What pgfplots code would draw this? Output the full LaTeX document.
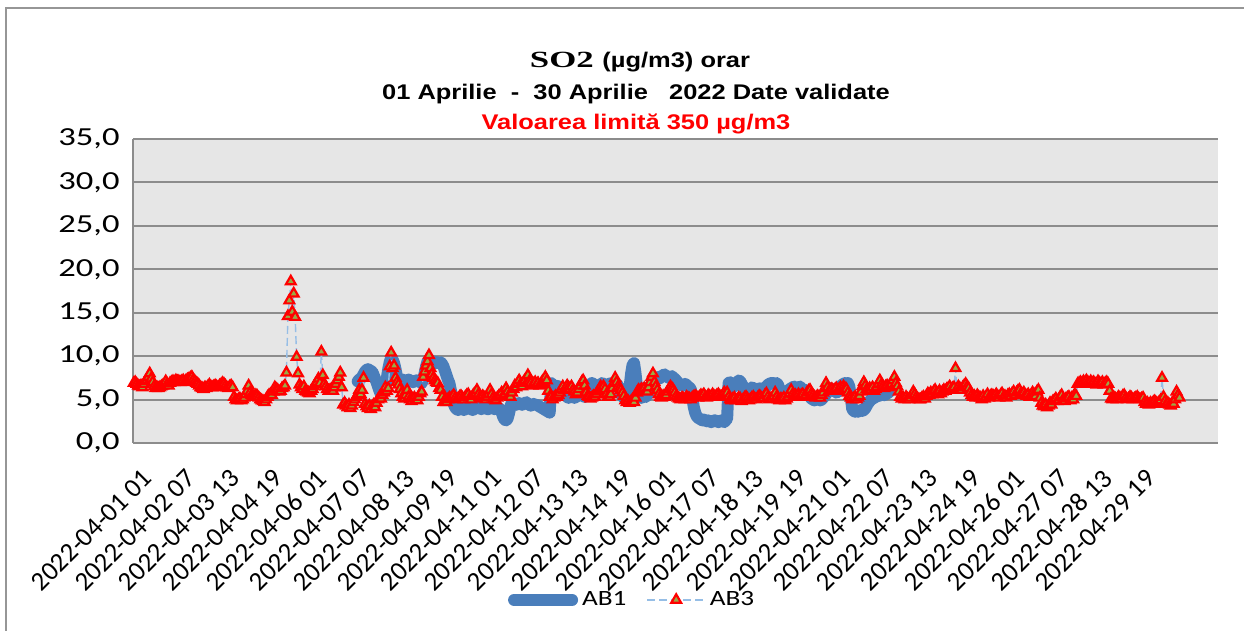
\documentclass[border=0pt]{standalone}
\usepackage{fontspec}
\setmainfont{Carlito}
\newfontfamily\ticky[FakeStretch=1.33]{Carlito}
\newfontfamily\tickx{Carlito}
\newfontfamily\legf[FakeStretch=1.25]{Carlito}
\newfontfamily\titlesans[FakeStretch=1.2]{Liberation Sans}
\newfontfamily\titleserif[FakeStretch=1.5]{Liberation Serif}
\usepackage{pgfplots}
\pgfplotsset{compat=1.18}
\usepackage{pgfplotstable}

\definecolor{abone}{RGB}{74,126,187}
\definecolor{abthree}{RGB}{150,190,230}
\definecolor{trifill}{RGB}{155,170,70}
\definecolor{gridc}{RGB}{140,140,140}
\definecolor{plotbg}{RGB}{230,230,230}
\definecolor{framec}{RGB}{150,150,150}

% AB3, hourly values from 2022-04-01 01 (index 0)
\pgfplotstableread[row sep=\\]{
y\\
6.9\\ 7.0\\ 6.8\\ 6.6\\ 6.5\\ 6.6\\ 6.4\\ 6.8\\ 7.1\\ 7.3\\
7.6\\ 8.0\\ 7.4\\ 7.0\\ 6.5\\ 6.3\\ 6.4\\ 6.3\\ 6.4\\ 6.5\\
6.6\\ 6.7\\ 7.1\\ 6.8\\ 6.6\\ 6.9\\ 7.0\\ 7.1\\ 7.0\\ 7.2\\ 7.1\\
7.1\\ 7.0\\ 7.1\\ 7.2\\ 7.0\\ 7.2\\ 7.3\\ 7.4\\ 7.5\\ 7.6\\
7.3\\ 7.1\\ 6.9\\ 6.8\\ 6.6\\ 6.4\\ 6.3\\ 6.2\\ 6.4\\ 6.3\\
6.5\\ 6.7\\ 6.5\\ 6.4\\ 6.5\\ 6.6\\ 6.5\\ 6.4\\ 6.6\\ 6.7\\
6.9\\ 6.8\\ 6.6\\ 6.4\\ 6.3\\ 6.5\\ 6.6\\ 6.4\\ 5.3\\ 5.0\\
4.9\\ 5.0\\ 5.1\\ 4.9\\ 5.0\\ 5.2\\ 5.6\\ 6.0\\ 6.6\\ 5.8\\ 5.5\\
5.4\\ 5.3\\ 5.5\\ 5.4\\ 5.2\\ 5.0\\ 4.9\\ 4.8\\ 4.7\\ 5.0\\
5.3\\ 5.5\\ 5.6\\ 5.5\\ 5.9\\ 6.4\\ 6.2\\ 6.1\\ 5.9\\ 6.0\\
6.3\\ 6.4\\ 6.6\\ 8.1\\ 14.6\\ 16.4\\ 18.6\\ 15.1\\ 17.2\\ 14.5\\
9.9\\ 8.0\\ 6.7\\ 6.4\\ 6.2\\ 6.5\\ 6.0\\ 5.9\\ 5.8\\ 5.7\\
6.0\\ 6.2\\ 6.5\\ 6.8\\ 7.0\\ 7.4\\ 6.9\\ 10.5\\ 7.8\\ 6.8\\ 6.5\\
6.2\\ 6.0\\ 6.1\\ 6.2\\ 6.0\\ 6.4\\ 6.8\\ 7.2\\ 7.6\\ 8.1\\
6.4\\ 4.4\\ 4.6\\ 4.3\\ 4.1\\ 4.4\\ 4.0\\ 4.3\\ 4.7\\ 5.0\\
5.3\\ 5.5\\ 6.1\\ 5.6\\ 6.1\\ 7.5\\ 4.5\\ 4.2\\ 4.0\\ 4.3\\
3.9\\ 4.2\\ 4.4\\ 4.1\\ 4.6\\ 5.0\\ 5.3\\ 5.1\\ 5.5\\ 5.8\\
6.4\\ 6.0\\ 6.3\\ 8.8\\ 10.4\\ 8.6\\ 8.9\\ 7.5\\ 7.0\\ 6.7\\ 6.2\\
5.7\\ 5.3\\ 5.1\\ 5.5\\ 6.1\\ 5.3\\ 5.0\\ 4.8\\ 5.1\\ 5.2\\
5.0\\ 4.9\\ 5.3\\ 5.7\\ 5.9\\ 7.6\\ 8.2\\ 8.9\\ 9.4\\ 10.1\\
8.6\\ 7.9\\ 7.5\\ 7.2\\ 7.0\\ 6.9\\ 6.3\\ 6.1\\ 5.3\\ 4.7\\
4.9\\ 4.7\\ 5.0\\ 5.2\\ 5.1\\ 5.3\\ 5.5\\ 5.2\\ 5.0\\ 5.1\\
5.3\\ 5.4\\ 5.2\\ 5.0\\ 5.3\\ 5.5\\ 5.6\\ 5.2\\ 5.0\\ 5.4\\ 5.6\\
5.8\\ 6.1\\ 5.6\\ 5.3\\ 5.1\\ 5.4\\ 5.2\\ 5.0\\ 5.3\\ 5.6\\
6.1\\ 5.6\\ 5.2\\ 5.0\\ 4.9\\ 5.2\\ 5.4\\ 5.5\\ 5.8\\ 5.4\\
5.6\\ 6.3\\ 5.9\\ 5.5\\ 5.3\\ 5.8\\ 6.2\\ 6.6\\ 6.4\\ 6.9\\
7.2\\ 6.8\\ 6.5\\ 7.0\\ 7.2\\ 6.9\\ 7.8\\ 7.1\\ 6.9\\ 6.6\\
6.8\\ 7.0\\ 6.7\\ 6.9\\ 6.6\\ 6.8\\ 7.1\\ 7.0\\ 7.6\\ 7.2\\ 6.0\\
5.3\\ 5.3\\ 5.0\\ 5.2\\ 5.4\\ 5.3\\ 5.5\\ 5.8\\ 6.2\\ 6.5\\
6.1\\ 6.3\\ 6.6\\ 6.4\\ 6.2\\ 6.5\\ 6.1\\ 5.9\\ 5.6\\ 5.8\\
6.2\\ 6.6\\ 7.0\\ 7.2\\ 6.6\\ 5.8\\ 5.4\\ 5.3\\ 5.1\\ 5.2\\
5.4\\ 5.3\\ 5.6\\ 5.9\\ 6.1\\ 6.5\\ 6.3\\ 6.5\\ 6.2\\ 5.6\\
5.3\\ 5.3\\ 5.6\\ 6.3\\ 6.9\\ 7.5\\ 7.0\\ 6.5\\ 6.3\\ 6.1\\ 5.8\\
5.4\\ 4.9\\ 4.7\\ 4.8\\ 4.6\\ 4.8\\ 5.0\\ 4.7\\ 5.2\\ 5.8\\
6.1\\ 6.0\\ 6.2\\ 6.1\\ 6.3\\ 6.0\\ 5.9\\ 6.4\\ 7.0\\ 7.6\\
8.0\\ 7.0\\ 6.5\\ 6.1\\ 5.6\\ 5.3\\ 5.2\\ 5.4\\ 5.3\\ 5.5\\
5.9\\ 6.2\\ 6.5\\ 6.3\\ 6.1\\ 5.8\\ 5.4\\ 5.2\\ 5.1\\ 5.0\\
5.2\\ 5.1\\ 5.0\\ 5.3\\ 5.2\\ 5.1\\ 5.0\\ 5.2\\ 5.3\\ 5.4\\ 5.3\\
5.2\\ 5.3\\ 5.5\\ 5.4\\ 5.6\\ 5.3\\ 5.2\\ 5.5\\ 5.4\\ 5.3\\
5.6\\ 5.4\\ 5.3\\ 5.5\\ 5.6\\ 5.4\\ 5.3\\ 5.5\\ 5.8\\ 5.6\\
5.8\\ 5.3\\ 5.0\\ 4.9\\ 5.1\\ 5.2\\ 4.9\\ 5.0\\ 5.2\\ 5.1\\
4.8\\ 5.0\\ 5.2\\ 5.3\\ 5.1\\ 4.9\\ 5.0\\ 5.2\\ 5.3\\ 5.1\\
5.0\\ 5.2\\ 5.4\\ 5.3\\ 5.1\\ 5.2\\ 5.5\\ 5.7\\ 5.3\\ 5.0\\ 5.1\\
5.1\\ 5.4\\ 5.8\\ 5.3\\ 5.0\\ 4.9\\ 5.1\\ 5.0\\ 5.2\\ 4.9\\
5.1\\ 5.3\\ 5.7\\ 6.1\\ 5.6\\ 5.4\\ 5.5\\ 5.3\\ 5.6\\ 5.4\\
5.5\\ 5.6\\ 5.3\\ 5.5\\ 5.8\\ 6.0\\ 6.1\\ 5.7\\ 5.5\\ 5.3\\
5.2\\ 5.4\\ 5.3\\ 5.2\\ 5.5\\ 5.8\\ 6.3\\ 6.9\\ 6.4\\ 6.0\\
6.1\\ 6.2\\ 6.0\\ 6.1\\ 6.3\\ 6.0\\ 6.2\\ 6.4\\ 6.1\\ 6.5\\ 6.3\\
6.2\\ 5.8\\ 5.4\\ 5.2\\ 5.0\\ 5.1\\ 5.3\\ 5.0\\ 5.2\\ 5.4\\
5.9\\ 6.5\\ 7.0\\ 6.6\\ 6.2\\ 6.0\\ 6.3\\ 6.1\\ 6.4\\ 6.0\\
6.2\\ 6.4\\ 6.8\\ 7.2\\ 6.7\\ 6.5\\ 6.3\\ 6.5\\ 6.6\\ 6.4\\
6.5\\ 6.8\\ 7.2\\ 7.6\\ 6.9\\ 6.5\\ 5.9\\ 5.3\\ 5.1\\ 5.2\\
5.0\\ 5.3\\ 5.1\\ 5.0\\ 5.2\\ 5.5\\ 5.9\\ 5.6\\ 5.3\\ 5.1\\ 5.0\\
5.0\\ 5.2\\ 5.3\\ 5.1\\ 5.4\\ 5.7\\ 5.5\\ 5.8\\ 5.6\\ 5.9\\
6.1\\ 5.8\\ 5.6\\ 6.0\\ 5.7\\ 5.9\\ 6.1\\ 6.0\\ 6.2\\ 6.3\\
6.5\\ 6.1\\ 6.3\\ 6.4\\ 8.6\\ 6.2\\ 6.5\\ 6.3\\ 6.1\\ 6.4\\
6.6\\ 6.8\\ 6.5\\ 6.3\\ 5.8\\ 5.5\\ 5.3\\ 5.4\\ 5.2\\ 5.5\\
5.3\\ 5.2\\ 5.0\\ 5.4\\ 5.1\\ 5.3\\ 5.6\\ 5.2\\ 5.4\\ 5.5\\ 5.4\\
5.3\\ 5.6\\ 5.4\\ 5.2\\ 5.5\\ 5.7\\ 5.3\\ 5.4\\ 5.2\\ 5.5\\
5.6\\ 5.4\\ 5.7\\ 5.9\\ 5.5\\ 5.8\\ 6.0\\ 6.1\\ 5.7\\ 5.6\\
5.8\\ 5.5\\ 5.4\\ 5.6\\ 5.3\\ 5.5\\ 5.8\\ 5.6\\ 5.4\\ 5.9\\
6.1\\ 5.2\\ 4.6\\ 4.3\\ 4.2\\ 4.4\\ 4.1\\ 4.3\\ 4.6\\ 4.4\\
4.8\\ 4.9\\ 5.1\\ 4.8\\ 5.0\\ 5.3\\ 5.5\\ 5.0\\ 4.8\\ 5.1\\ 5.2\\
5.3\\ 4.9\\ 5.2\\ 5.0\\ 5.6\\ 5.4\\ 6.8\\ 6.9\\ 7.0\\ 6.8\\
7.1\\ 6.9\\ 7.2\\ 7.0\\ 6.8\\ 7.1\\ 6.9\\ 7.0\\ 6.8\\ 6.7\\
7.1\\ 6.9\\ 6.8\\ 7.0\\ 6.7\\ 6.9\\ 7.0\\ 6.8\\ 6.0\\ 5.1\\
5.0\\ 5.2\\ 5.1\\ 5.0\\ 5.3\\ 5.2\\ 5.1\\ 5.4\\ 5.5\\ 5.2\\
5.0\\ 5.1\\ 5.3\\ 5.2\\ 5.0\\ 5.1\\ 5.2\\ 5.3\\ 5.1\\ 5.0\\ 5.1\\
5.2\\ 4.7\\ 4.5\\ 4.6\\ 4.4\\ 4.6\\ 4.5\\ 4.7\\ 4.8\\ 4.6\\
4.5\\ 4.7\\ 4.9\\ 7.5\\ 5.3\\ 4.8\\ 4.5\\ 4.6\\ 4.4\\ 4.3\\
4.6\\ 4.5\\ 5.0\\ 5.9\\ 5.5\\ 5.2\\
}\abthreetab

% AB1, hourly values from index 154 (2022-04-07 11)
\pgfplotstableread[row sep=\\]{
y\\
7.1\\ 7.3\\ 7.4\\ 7.6\\ 7.9\\ 8.2\\ 8.4\\ 8.5\\ 8.4\\ 8.3\\
8.2\\ 7.8\\ 7.4\\ 7.0\\ 6.5\\ 6.0\\ 5.6\\ 5.8\\ 6.0\\ 6.5\\
7.4\\ 8.5\\ 9.3\\ 9.8\\ 9.6\\ 9.2\\ 8.5\\ 7.6\\ 6.9\\ 7.0\\
7.2\\ 7.3\\ 7.2\\ 7.1\\ 7.2\\ 7.3\\ 7.2\\ 7.1\\ 7.0\\ 7.1\\ 7.2\\
7.2\\ 7.1\\ 7.0\\ 6.9\\ 7.3\\ 8.0\\ 8.8\\ 9.4\\ 9.6\\ 9.5\\
9.3\\ 9.4\\ 9.3\\ 9.2\\ 9.3\\ 9.2\\ 9.3\\ 9.1\\ 8.8\\ 8.3\\
7.8\\ 7.3\\ 6.9\\ 6.1\\ 5.3\\ 4.5\\ 4.1\\ 3.9\\ 3.8\\ 3.9\\
4.0\\ 3.9\\ 3.8\\ 3.9\\ 4.0\\ 4.1\\ 4.0\\ 3.9\\ 3.8\\ 3.9\\ 4.0\\
4.0\\ 4.1\\ 4.0\\ 3.9\\ 4.0\\ 4.1\\ 4.0\\ 3.9\\ 3.9\\ 4.0\\
4.1\\ 4.0\\ 3.9\\ 4.0\\ 4.1\\ 4.0\\ 3.9\\ 3.5\\ 3.0\\ 2.7\\
2.6\\ 2.8\\ 3.4\\ 4.2\\ 4.7\\ 4.6\\ 4.5\\ 4.4\\ 4.5\\ 4.6\\
4.5\\ 4.4\\ 4.5\\ 4.6\\ 4.7\\ 4.5\\ 4.4\\ 4.3\\ 4.4\\ 4.5\\ 4.4\\
4.4\\ 4.3\\ 4.2\\ 4.1\\ 4.0\\ 3.9\\ 3.8\\ 3.7\\ 3.6\\ 3.5\\
6.9\\ 6.7\\ 6.5\\ 6.4\\ 6.6\\ 6.5\\ 6.3\\ 6.1\\ 6.0\\ 5.7\\
5.5\\ 5.3\\ 5.2\\ 5.3\\ 5.4\\ 5.3\\ 5.2\\ 5.3\\ 5.4\\ 5.5\\
5.6\\ 5.5\\ 5.4\\ 5.3\\ 5.5\\ 5.7\\ 6.0\\ 6.4\\ 6.9\\ 6.8\\ 6.6\\
6.5\\ 6.3\\ 6.4\\ 6.7\\ 6.9\\ 6.8\\ 6.6\\ 6.5\\ 6.6\\ 6.8\\
6.9\\ 6.7\\ 6.5\\ 6.7\\ 6.8\\ 6.6\\ 6.2\\ 5.8\\ 5.4\\ 5.2\\
5.1\\ 5.0\\ 5.3\\ 6.5\\ 8.0\\ 9.0\\ 9.2\\ 8.0\\ 6.5\\ 5.6\\
5.3\\ 5.2\\ 5.3\\ 5.4\\ 5.3\\ 5.5\\ 5.8\\ 6.3\\ 6.8\\ 7.2\\ 7.4\\
7.5\\ 7.6\\ 7.4\\ 7.5\\ 7.7\\ 7.8\\ 7.9\\ 7.7\\ 7.6\\ 7.5\\
7.6\\ 7.7\\ 7.5\\ 7.4\\ 7.2\\ 7.0\\ 6.8\\ 6.7\\ 6.6\\ 6.7\\
6.8\\ 6.7\\ 6.5\\ 6.4\\ 6.2\\ 5.3\\ 4.2\\ 3.5\\ 3.1\\ 2.9\\
2.8\\ 2.7\\ 2.6\\ 2.7\\ 2.6\\ 2.5\\ 2.6\\ 2.5\\ 2.4\\ 2.5\\ 2.6\\
2.6\\ 2.5\\ 2.4\\ 2.5\\ 2.6\\ 2.5\\ 2.4\\ 2.6\\ 2.8\\ 6.9\\
7.0\\ 6.8\\ 6.6\\ 6.5\\ 6.7\\ 7.0\\ 7.2\\ 7.1\\ 6.8\\ 6.5\\
6.3\\ 6.1\\ 6.0\\ 6.1\\ 6.2\\ 6.4\\ 6.3\\ 6.1\\ 6.0\\ 6.2\\
6.3\\ 6.1\\ 6.0\\ 6.2\\ 6.4\\ 6.5\\ 6.7\\ 6.8\\ 6.9\\ 6.9\\ 6.9\\
6.8\\ 6.9\\ 6.7\\ 6.2\\ 5.8\\ 5.5\\ 5.4\\ 5.6\\ 5.8\\ 6.0\\
6.2\\ 6.3\\ 6.4\\ 6.5\\ 6.3\\ 6.2\\ 6.4\\ 6.5\\ 6.3\\ 6.1\\
6.0\\ 6.1\\ 5.9\\ 5.6\\ 5.3\\ 5.1\\ 5.0\\ 4.9\\ 5.0\\ 5.1\\
5.0\\ 4.9\\ 5.0\\ 5.2\\ 5.4\\ 5.6\\ 5.9\\ 6.2\\ 6.3\\ 6.2\\ 6.1\\
6.0\\ 5.8\\ 5.9\\ 6.2\\ 6.5\\ 6.7\\ 6.8\\ 6.9\\ 6.8\\ 6.9\\
6.5\\ 5.4\\ 3.9\\ 3.7\\ 3.6\\ 3.7\\ 3.6\\ 3.7\\ 3.8\\ 3.7\\
3.8\\ 4.0\\ 4.3\\ 4.6\\ 4.8\\ 5.0\\ 5.1\\ 5.2\\ 5.3\\ 5.4\\
5.4\\ 5.5\\ 5.6\\ 5.6\\ 5.5\\ 5.6\\ 5.7\\ 5.8\\
}\abonetab

\begin{document}
\begin{tikzpicture}[x=1pt,y=1pt]
\path[use as bounding box] (0,0) rectangle (622,315.5);
\draw[framec, line width=0.6pt] (3,-10) -- (3,311.5) -- (640,311.5);
\begin{axis}[
  at={(66.5pt,94pt)}, anchor=south west,
  scale only axis, width=542.5pt, height=152pt,
  xmin=-0.5, xmax=745.5, ymin=0, ymax=35,
  axis background/.style={fill=plotbg},
  axis x line*=bottom, axis y line*=left,
  axis line style={gridc, line width=1pt},
  ytick={0,5,...,35},
  ymajorgrids, grid style={gridc, line width=1pt},
  major tick length=0pt,
  /pgf/number format/assume math mode=true,
  yticklabel style={/pgf/number format/fixed, /pgf/number format/fixed zerofill,
    /pgf/number format/precision=1, /pgf/number format/use comma},
  yticklabel style={font=\ticky\fontsize{13}{13}\selectfont, anchor=east, inner sep=0pt, xshift=-6.5pt},
  xtick={0,30,...,690},
  xticklabels={2022-04-01 01,2022-04-02 07,2022-04-03 13,2022-04-04 19,2022-04-06 01,2022-04-07 07,2022-04-08 13,2022-04-09 19,2022-04-11 01,2022-04-12 07,2022-04-13 13,2022-04-14 19,2022-04-16 01,2022-04-17 07,2022-04-18 13,2022-04-19 19,2022-04-21 01,2022-04-22 07,2022-04-23 13,2022-04-24 19,2022-04-26 01,2022-04-27 07,2022-04-28 13,2022-04-29 19},
  xticklabel style={font=\tickx\fontsize{13.4}{13.4}\selectfont, xshift=7pt, yshift=-15.5pt, rotate=45, anchor=east, inner sep=0pt},
  legend style={at={(0.461,-0.516)}, anchor=center, draw=none, fill=none, legend columns=2,
    font=\legf\fontsize{10.9}{11}\selectfont, /tikz/every even column/.append style={column sep=8pt}},
  legend image code/.code={\draw[mark repeat=2,mark phase=2,#1] plot coordinates {(0pt,0pt) (14.5pt,0pt) (29pt,0pt)};},
  clip=false,
]
\addplot[abone, line width=6pt, line join=round, line cap=round, no markers]
  table[x expr=\coordindex+154, y index=0] {\abonetab};
\addlegendentry{AB1}
\addplot[abthree, line width=0.7pt, dash pattern=on 4pt off 2pt,
  mark=triangle*, mark size=2.8pt, mark options={solid, draw=red, fill=trifill, line width=1.1pt}]
  table[x expr=\coordindex, y index=0] {\abthreetab};
\addlegendentry{AB3}
\end{axis}
\node[anchor=base, inner sep=0pt] at (320,281.5) {\titleserif\bfseries\fontsize{11.6}{12}\selectfont SO2 \titlesans\fontsize{10.6}{12}\selectfont(µg/m3) orar};
\node[anchor=base, inner sep=0pt] at (318,265.5) {\titlesans\bfseries\fontsize{10.6}{12}\selectfont 01 Aprilie\ \ -\ \ 30 Aprilie\ \ \ 2022 Date validate};
\node[anchor=base, inner sep=0pt, text=red] at (318,250.5) {\titlesans\bfseries\fontsize{10.6}{12}\selectfont Valoarea limită 350 µg/m3};
\end{tikzpicture}
\end{document}
